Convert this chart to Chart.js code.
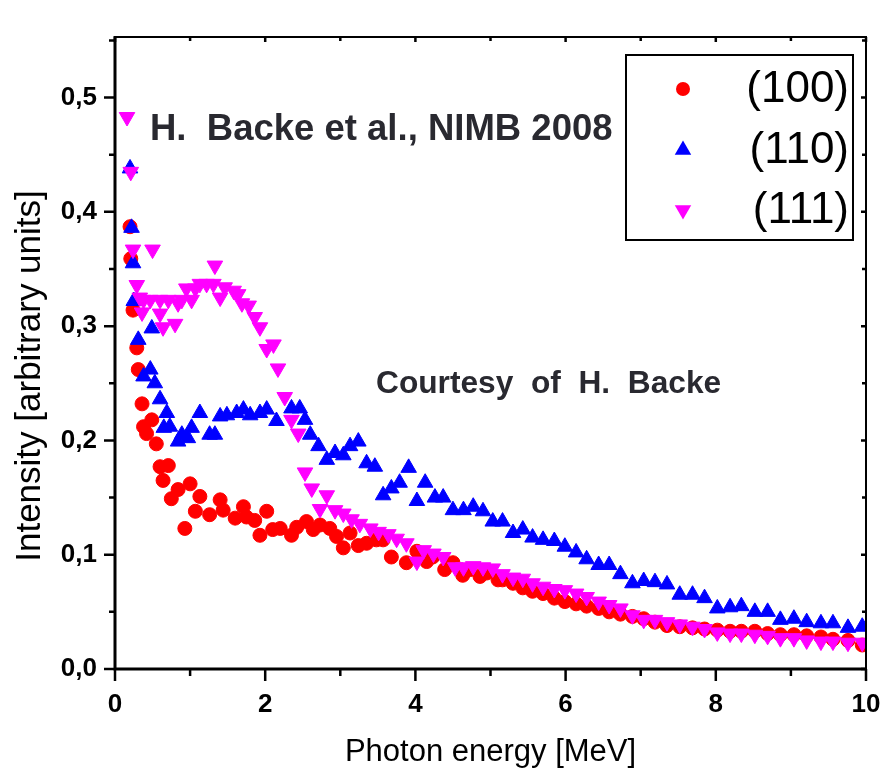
<!DOCTYPE html>
<html>
<head>
<meta charset="utf-8">
<script src="https://cdn.jsdelivr.net/npm/chart.js@4.4.1/dist/chart.umd.min.js"></script>
<style>
  html, body { margin: 0; padding: 0; background: #ffffff; }
  #wrap { width: 883px; height: 774px; position: relative; }
</style>
</head>
<body>
<div id="wrap"><canvas id="c" width="883" height="774"></canvas></div>
<script>
// ---------- data ----------
const seriesNames = ['(100)', '(110)', '(111)'];

const x100 = [0.20,0.21,0.24,0.29,0.31,0.36,0.38,0.42,0.49,0.55,0.60,0.64,0.71,0.75,0.84,0.93,1.00,1.07,1.13,1.26,
  1.40,1.44,1.60,1.71,1.75,1.86,1.93,2.02,2.10,2.20,2.35,2.42,2.55,2.64,2.73,2.86,2.95,3.04,3.13,3.24,
  3.35,3.48,3.57,3.68,3.88,4.02,4.15,4.23,4.39,4.50,4.63,4.73,4.86,4.95,5.10,
  5.16,5.30,5.43,5.56,5.70,5.85,5.99,6.14,6.28,6.44,6.58,6.73,6.89,7.04,7.19,7.35,7.52,7.69,7.85,8.02,
  8.19,8.34,8.52,8.69,8.86,9.04,9.21,9.40,9.56,9.76,9.95];
const y100 = [0.387,0.359,0.314,0.281,0.262,0.232,0.212,0.206,0.218,0.197,0.177,0.165,0.178,0.149,0.157,0.123,0.162,0.138,0.151,0.135,
  0.148,0.139,0.132,0.142,0.133,0.130,0.117,0.138,0.122,0.123,0.117,0.124,0.129,0.122,0.126,0.123,0.116,0.106,0.119,0.108,
  0.110,0.113,0.113,0.098,0.093,0.103,0.094,0.098,0.087,0.093,0.082,0.087,0.081,0.084,0.078,
  0.078,0.075,0.071,0.068,0.066,0.062,0.059,0.057,0.055,0.053,0.050,0.048,0.046,0.044,0.041,0.038,0.037,0.036,0.035,0.034,
  0.033,0.033,0.033,0.031,0.030,0.030,0.029,0.028,0.026,0.025,0.021];

const x110 = [0.20,0.22,0.24,0.25,0.31,0.49,0.38,0.47,0.53,0.60,0.65,0.69,0.73,0.84,0.89,0.97,1.02,1.13,1.26,1.33,
  1.40,1.49,1.62,1.71,1.80,1.93,2.02,2.15,2.35,2.46,2.53,2.60,2.71,2.82,2.93,3.04,3.13,3.24,3.35,3.46,
  3.57,3.68,3.79,3.91,4.02,4.13,4.26,4.37,4.50,4.64,4.77,4.90,5.03,5.16,5.30,5.43,5.56,5.70,5.85,5.99,
  6.14,6.28,6.44,6.58,6.73,6.89,7.04,7.19,7.35,7.52,7.69,7.85,8.02,8.19,8.34,8.52,8.69,8.86,9.04,9.21,
  9.40,9.56,9.76,9.95];
const y110 = [0.438,0.386,0.355,0.322,0.288,0.298,0.256,0.262,0.250,0.236,0.211,0.224,0.212,0.199,0.205,0.202,0.211,0.224,0.205,0.205,
  0.221,0.222,0.224,0.227,0.222,0.224,0.227,0.217,0.228,0.228,0.218,0.205,0.195,0.183,0.189,0.187,0.195,0.199,0.180,0.177,
  0.152,0.158,0.163,0.176,0.147,0.163,0.150,0.150,0.139,0.139,0.142,0.138,0.129,0.129,0.119,0.122,0.115,0.113,0.112,0.107,
  0.102,0.096,0.091,0.091,0.083,0.075,0.077,0.076,0.074,0.065,0.065,0.062,0.053,0.054,0.055,0.050,0.050,0.043,0.044,0.041,
  0.040,0.040,0.036,0.037];

const x111 = [0.16,0.21,0.24,0.50,0.29,0.33,0.36,0.38,0.47,0.60,0.60,0.64,0.71,0.80,0.84,0.89,0.95,1.02,1.07,1.13,
  1.22,1.31,1.33,1.40,1.46,1.58,1.64,1.69,1.78,1.86,1.93,2.02,2.11,2.17,2.26,2.35,2.44,2.53,2.62,2.73,
  2.82,2.93,3.04,3.15,3.26,3.40,3.51,3.64,3.75,3.88,4.02,4.11,4.24,4.37,4.53,4.64,4.77,4.90,5.03,5.16,
  5.30,5.43,5.56,5.70,5.85,5.99,6.14,6.28,6.44,6.58,6.73,6.89,7.04,7.19,7.35,7.52,7.69,7.85,8.02,8.19,
  8.34,8.52,8.69,8.86,9.04,9.21,9.40,9.56,9.76,9.95];
const y111 = [0.483,0.435,0.367,0.367,0.336,0.325,0.312,0.323,0.323,0.323,0.311,0.299,0.323,0.302,0.320,0.323,0.333,0.323,0.333,0.337,
  0.337,0.337,0.353,0.325,0.334,0.331,0.328,0.320,0.318,0.308,0.299,0.280,0.284,0.263,0.238,0.218,0.206,0.172,0.158,0.140,
  0.152,0.139,0.136,0.131,0.127,0.123,0.120,0.118,0.114,0.110,0.094,0.104,0.101,0.098,0.089,0.089,0.090,0.089,0.088,0.083,
  0.080,0.079,0.075,0.072,0.070,0.069,0.066,0.063,0.059,0.056,0.053,0.047,0.043,0.043,0.041,0.039,0.037,0.035,0.032,0.031,
  0.031,0.030,0.029,0.027,0.027,0.025,0.024,0.024,0.023,0.023];

const xMajorTicks = [0, 2, 4, 6, 8, 10];
const xMinorTicks = [1, 3, 5, 7, 9];
const yMajorTicks = [0, 0.1, 0.2, 0.3, 0.4, 0.5];
const yMinorTicks = [0.05, 0.15, 0.25, 0.35, 0.45, 0.55];
const yTickLabels = ['0,0', '0,1', '0,2', '0,3', '0,4', '0,5'];
const xTitle = 'Photon energy [MeV]';
const yTitle = 'Intensity [arbitrary units]';
const note1 = 'H.  Backe et al., NIMB 2008';
const note2 = 'Courtesy  of  H.  Backe';

const colors = ['#ff0000', '#0000ff', '#ff00ff'];
const FONT = '"Liberation Sans", Arial, sans-serif';

function pts(xs, ys) { return xs.map((x, i) => ({ x: x, y: ys[i] })); }

// ---------- plugins ----------
const framePlugin = {
  id: 'frame',
  afterDraw(chart) {
    const ctx = chart.ctx;
    const a = chart.chartArea;
    const xs = chart.scales.x, ys = chart.scales.y;
    ctx.save();
    ctx.strokeStyle = '#000';
    ctx.lineCap = 'butt';
    // top & right frame
    ctx.lineWidth = 2;
    ctx.beginPath();
    ctx.moveTo(a.left, a.top); ctx.lineTo(a.right, a.top); ctx.lineTo(a.right, a.bottom);
    ctx.stroke();
    // left & bottom axes
    ctx.lineWidth = 3;
    ctx.beginPath();
    ctx.moveTo(a.left, a.top - 1); ctx.lineTo(a.left, a.bottom); ctx.lineTo(a.right + 1, a.bottom);
    ctx.stroke();
    // ticks
    ctx.lineWidth = 2.5;
    ctx.beginPath();
    xMajorTicks.forEach(v => { const p = xs.getPixelForValue(v); ctx.moveTo(p, a.bottom); ctx.lineTo(p, a.bottom + 12); ctx.moveTo(p, a.top); ctx.lineTo(p, a.top + 5); });
    xMinorTicks.forEach(v => { const p = xs.getPixelForValue(v); ctx.moveTo(p, a.bottom); ctx.lineTo(p, a.bottom + 7); ctx.moveTo(p, a.top); ctx.lineTo(p, a.top + 4); });
    yMajorTicks.forEach(v => { const p = ys.getPixelForValue(v); ctx.moveTo(a.left, p); ctx.lineTo(a.left - 11, p); ctx.moveTo(a.right, p); ctx.lineTo(a.right - 5, p); });
    yMinorTicks.forEach(v => { const p = ys.getPixelForValue(v); ctx.moveTo(a.left, p); ctx.lineTo(a.left - 6, p); ctx.moveTo(a.right, p); ctx.lineTo(a.right - 4, p); });
    ctx.stroke();

    // axis titles
    ctx.fillStyle = '#000';
    ctx.textAlign = 'center';
    ctx.textBaseline = 'middle';
    ctx.font = '31px ' + FONT;
    ctx.fillText(xTitle, (a.left + a.right) / 2, 752);
    ctx.save();
    ctx.translate(30, 376);
    ctx.rotate(-Math.PI / 2);
    ctx.font = '35px ' + FONT;
    ctx.fillText(yTitle, 0, 0);
    ctx.restore();

    // annotations
    ctx.fillStyle = '#292930';
    ctx.textAlign = 'left';
    ctx.textBaseline = 'alphabetic';
    ctx.font = 'bold 36.5px ' + FONT;
    ctx.fillText(note1, 150, 140);
    ctx.font = 'bold 31.7px ' + FONT;
    ctx.fillText(note2, 376, 393);

    // legend box
    const bx = 626, by = 55, bw = 227, bh = 185;
    ctx.fillStyle = '#fff';
    ctx.fillRect(bx, by, bw, bh);
    ctx.lineWidth = 2;
    ctx.strokeStyle = '#000';
    ctx.strokeRect(bx, by, bw, bh);
    const rows = [89, 150, 210];
    const mx = 683;
    ctx.fillStyle = colors[0];
    ctx.beginPath(); ctx.arc(mx, rows[0], 7, 0, Math.PI * 2); ctx.fill();
    const r = 9.5;
    ctx.fillStyle = colors[1];
    ctx.beginPath();
    ctx.moveTo(mx, rows[1] - r);
    ctx.lineTo(mx + r * Math.sin(2 * Math.PI / 3), rows[1] + r / 2);
    ctx.lineTo(mx - r * Math.sin(2 * Math.PI / 3), rows[1] + r / 2);
    ctx.closePath(); ctx.fill();
    ctx.fillStyle = colors[2];
    ctx.beginPath();
    ctx.moveTo(mx, rows[2] + r);
    ctx.lineTo(mx + r * Math.sin(2 * Math.PI / 3), rows[2] - r / 2);
    ctx.lineTo(mx - r * Math.sin(2 * Math.PI / 3), rows[2] - r / 2);
    ctx.closePath(); ctx.fill();
    ctx.fillStyle = '#000';
    ctx.font = '44px ' + FONT;
    ctx.textAlign = 'right';
    ctx.textBaseline = 'middle';
    seriesNames.forEach((n, i) => ctx.fillText(n, 849, rows[i] + 1));
    ctx.restore();
  }
};

new Chart(document.getElementById('c'), {
  type: 'scatter',
  data: {
    datasets: [
      { label: seriesNames[0], data: pts(x100, y100), order: 2, pointStyle: 'circle', pointRadius: 7,
        backgroundColor: colors[0], borderColor: colors[0], borderWidth: 1 },
      { label: seriesNames[1], data: pts(x110, y110), order: 1, pointStyle: 'triangle', pointRadius: 9,
        backgroundColor: colors[1], borderColor: colors[1], borderWidth: 1 },
      { label: seriesNames[2], data: pts(x111, y111), order: 0, pointStyle: 'triangle', pointRotation: 180, pointRadius: 9,
        backgroundColor: colors[2], borderColor: colors[2], borderWidth: 1 }
    ]
  },
  options: {
    responsive: false,
    animation: false,
    devicePixelRatio: 1,
    layout: { padding: { left: 0, right: 17, top: 37, bottom: 0 } },
    plugins: { legend: { display: false }, tooltip: { enabled: false }, title: { display: false } },
    scales: {
      x: {
        type: 'linear', min: 0, max: 10,
        afterBuildTicks: s => { s.ticks = xMajorTicks.map(v => ({ value: v })); },
        afterFit: s => { s.height = 105; s.paddingLeft = 0; s.paddingRight = 0; },
        ticks: { color: '#000', font: { family: FONT, size: 26, weight: 'bold' },
                 padding: 8, maxRotation: 0, autoSkip: false,
                 callback: v => String(v) },
        grid: { display: true, drawOnChartArea: false, drawTicks: true, tickLength: 12, tickColor: 'rgba(0,0,0,0)', color: 'rgba(0,0,0,0)' },
        border: { display: false },
        title: { display: false }
      },
      y: {
        type: 'linear', min: 0, max: 0.553,
        afterBuildTicks: s => { s.ticks = yMajorTicks.map(v => ({ value: v })); },
        afterFit: s => { s.width = 115; s.paddingTop = 0; s.paddingBottom = 0; },
        ticks: { color: '#000', font: { family: FONT, size: 26, weight: 'bold' },
                 padding: 7, autoSkip: false,
                 callback: (v) => { const i = yMajorTicks.findIndex(t => Math.abs(t - v) < 1e-6); return i >= 0 ? yTickLabels[i] : ''; } },
        grid: { display: true, drawOnChartArea: false, drawTicks: true, tickLength: 11, tickColor: 'rgba(0,0,0,0)', color: 'rgba(0,0,0,0)' },
        border: { display: false },
        title: { display: false }
      }
    }
  },
  plugins: [framePlugin]
});
</script>
</body>
</html>
